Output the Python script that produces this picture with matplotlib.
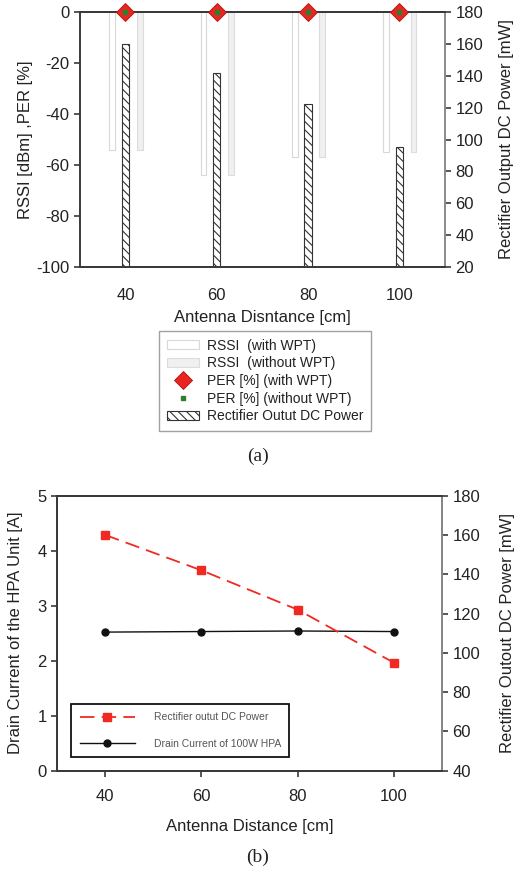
import numpy as np
import matplotlib.pyplot as plt
from matplotlib.patches import Patch
from matplotlib.lines import Line2D

plt.rcParams['font.family'] = ['Liberation Sans', 'DejaVu Sans']
plt.rcParams['hatch.linewidth'] = 0.8
plt.rcParams['axes.unicode_minus'] = False

# Дистанции между антеннами
distance = [40, 60, 80, 100]
distance_labels = ['40', '60', '80', '100']

# Панель (a)
rssi_wpt = [-54, -64, -57, -55]      # RSSI с WPT, дБм
rssi_no_wpt = [-54, -64, -57, -55]   # RSSI без WPT, дБм
per_wpt = [0, 0, 0, 0]               # PER с WPT, %
per_no_wpt = [0, 0, 0, 0]            # PER без WPT, %
dc_power = [160, 142, 122, 95]       # мощность на выходе выпрямителя, мВт

# Панель (b)
drain_current = [2.52, 2.53, 2.54, 2.53]  # ток стока 100W HPA, А

dark = '#3a3a3a'
txt = '#222222'
serif = ['Liberation Serif', 'DejaVu Serif']

fig = plt.figure(figsize=(5.15, 8.69), dpi=100)


def style(ax):
    for s in ax.spines.values():
        s.set_color(dark)
        s.set_linewidth(1.4)
    ax.tick_params(colors=dark, labelcolor=txt, labelsize=12, width=1.2, length=4)


# ---------- (a) ----------
ax1 = fig.add_axes([0.155, 0.6927, 0.709, 0.2935])
x = np.arange(len(distance))
ax1.bar(x - 0.145, rssi_wpt, width=0.06, color='white', edgecolor='#d8d8d8', linewidth=0.8, zorder=2)
ax1.bar(x + 0.155, rssi_no_wpt, width=0.065, color='#f0f0f0', edgecolor='#dcdcdc', linewidth=0.8, zorder=2)
ax1.set_xlim(-0.5, 3.5)
ax1.set_ylim(-100, 0)
ax1.set_yticks(range(-100, 1, 20))
ax1.set_xticks(x)
ax1.set_xticklabels(distance_labels)
ax1.set_ylabel('RSSI [dBm] ,PER [%]', fontsize=12, color=txt, labelpad=2)
ax1.set_xlabel('Antenna Disntance [cm]', fontsize=12, color=txt, labelpad=5)
style(ax1)
ax1.tick_params(axis='x', length=0, pad=15)
ax1.spines['right'].set_visible(False)

ax1r = ax1.twinx()
ax1r.bar(x, [v - 20 for v in dc_power], bottom=20, width=0.08, color='white',
         edgecolor='#333333', hatch='\\\\\\\\', linewidth=0.8, zorder=2)
ax1r.set_ylim(20, 180)
ax1r.set_yticks(range(20, 181, 20))
ax1r.set_ylabel('Rectifier Output DC Power [mW]', fontsize=12, color=txt, labelpad=11)
style(ax1r)
ax1r.spines['right'].set_color('#8a8a8a')
ax1r.spines['left'].set_visible(False)

# маркеры PER поверх всего
ax1p = ax1.twinx()
ax1p.set_ylim(-100, 0)
ax1p.axis('off')
ax1p.plot(x, per_wpt, linestyle='none', marker='D', markersize=9, color='#e8261f',
          markeredgecolor='#b01010', markeredgewidth=0.6, clip_on=False, zorder=5)
ax1p.plot(x, per_no_wpt, linestyle='none', marker='s', markersize=3, color='#2e7d32',
          clip_on=False, zorder=6)

handles_a = [
    Patch(facecolor='white', edgecolor='#d8d8d8', linewidth=0.8),
    Patch(facecolor='#f0f0f0', edgecolor='#dcdcdc', linewidth=0.8),
    Line2D([], [], linestyle='none', marker='D', markersize=9, color='#e8261f',
           markeredgecolor='#b01010', markeredgewidth=0.6),
    Line2D([], [], linestyle='none', marker='s', markersize=3, color='#2e7d32'),
    Patch(facecolor='white', edgecolor='#333333', hatch='\\\\\\\\', linewidth=0.8),
]
labels_a = ['RSSI  (with WPT)', 'RSSI  (without WPT)', 'PER [%] (with WPT)',
            'PER [%] (without WPT)', 'Rectifier Outut DC Power']
leg_a = fig.legend(handles_a, labels_a, loc='upper left', bbox_to_anchor=(0.309, 0.619),
                   fontsize=10, frameon=True, fancybox=False, edgecolor='#8a8a8a',
                   handlelength=2.3, handleheight=0.6, labelspacing=0.26, borderpad=0.55,
                   handletextpad=0.6, borderaxespad=0, labelcolor=txt)
leg_a.get_frame().set_linewidth(1.0)
fig.text(0.5, 0.475, '(a)', ha='center', va='center', fontsize=14, family=serif, color=txt)

# ---------- (b) ----------
ax2 = fig.add_axes([0.111, 0.1131, 0.747, 0.3165])
ax2r = ax2.twinx()
ln1, = ax2r.plot(distance, dc_power, color='#f02a22', linestyle=(0, (8, 4)), linewidth=1.3,
                 marker='s', markersize=5.5, zorder=3)
ax2r.set_ylim(40, 180)
ax2r.set_yticks(range(40, 181, 20))
ax2r.set_ylabel('Rectifier Outout DC Power [mW]', fontsize=12, color=txt, labelpad=14)
style(ax2r)
ax2r.spines['right'].set_color('#8a8a8a')

ln2, = ax2.plot(distance, drain_current, color='#111111', linewidth=1.0,
                marker='o', markersize=5, zorder=3)
ax2.set_xlim(30, 110)
ax2.set_ylim(0, 5)
ax2.set_xticks(distance)
ax2.set_yticks(range(0, 6))
ax2.set_ylabel('Drain Current of the HPA Unit [A]', fontsize=12, color=txt, labelpad=10)
ax2.set_xlabel('Antenna Distance [cm]', fontsize=12, color=txt, labelpad=11)
style(ax2)
ax2.tick_params(axis='x', pad=9)

leg_b = ax2.legend([ln1, ln2], ['Rectifier outut DC Power', 'Drain Current of 100W HPA'],
                   loc='lower left', bbox_to_anchor=(0.037, 0.05), fontsize=7.5,
                   frameon=True, fancybox=False, edgecolor='#111111', framealpha=1,
                   handlelength=5.3, labelspacing=1.55, borderpad=0.8, handletextpad=1.8,
                   borderaxespad=0, labelcolor='#555555')
leg_b.get_frame().set_linewidth(1.3)
fig.text(0.5, 0.013, '(b)', ha='center', va='center', fontsize=14, family=serif, color=txt)

fig.savefig('out.png', dpi=100)
